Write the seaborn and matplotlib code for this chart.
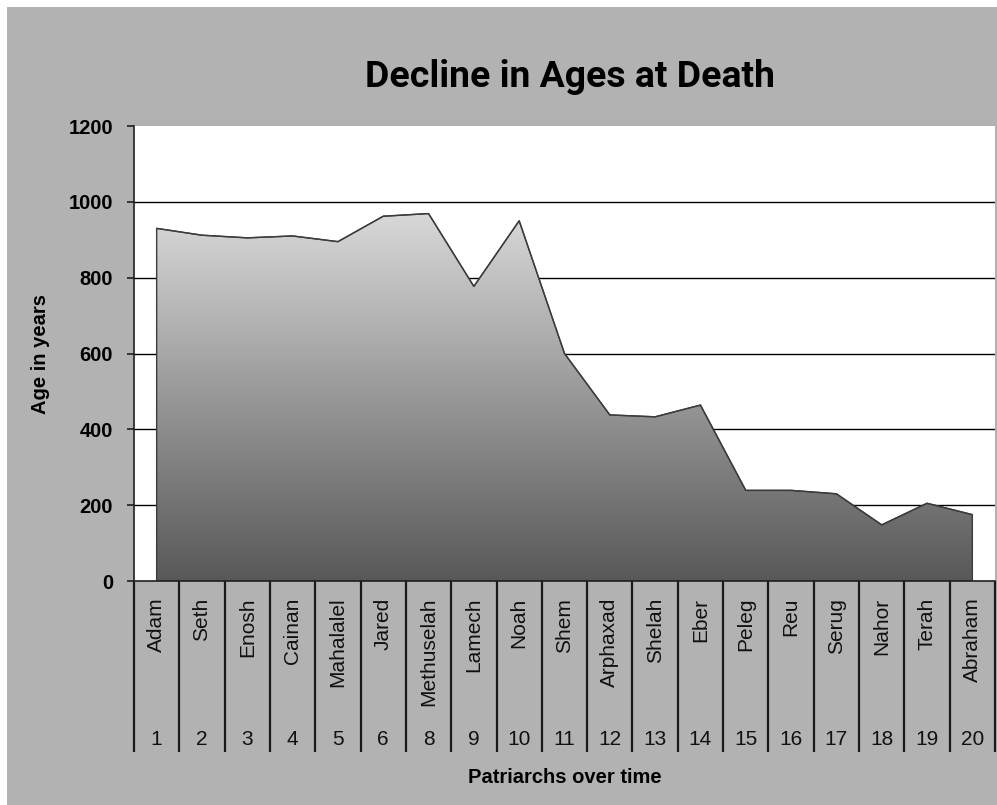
import matplotlib
matplotlib.use("Agg")
from matplotlib import pyplot as plt
from matplotlib import transforms
from matplotlib.colors import LinearSegmentedColormap
from matplotlib.patches import Rectangle
import seaborn as sns
import numpy as np

names = ['Adam', 'Seth', 'Enosh', 'Cainan', 'Mahalalel', 'Jared', 'Methuselah',
         'Lamech', 'Noah', 'Shem', 'Arphaxad', 'Shelah', 'Eber', 'Peleg', 'Reu',
         'Serug', 'Nahor', 'Terah', 'Abraham']
numbers = ['1', '2', '3', '4', '5', '6', '8', '9', '10', '11', '12', '13', '14',
           '15', '16', '17', '18', '19', '20']
ages = [930, 912, 905, 910, 895, 962, 969, 777, 950, 600, 438, 433, 464,
        239, 239, 230, 148, 205, 175]
yticks = [0, 200, 400, 600, 800, 1000, 1200]

sns.set_style('white')
plt.rcParams['font.family'] = ['Liberation Sans', 'DejaVu Sans']
plt.rcParams['text.color'] = 'black'
plt.rcParams['axes.labelcolor'] = 'black'
plt.rcParams['xtick.color'] = 'black'
plt.rcParams['ytick.color'] = 'black'

bg = '#b2b2b2'
fig = plt.figure(figsize=(9.97, 8.05), dpi=100, facecolor='white')
fig.patches.append(Rectangle((7 / 997, 0), 1, 1 - 7 / 805, transform=fig.transFigure,
                             facecolor=bg, edgecolor='none', zorder=-10))
ax = fig.add_axes([134 / 997, 1 - 581 / 805, 861 / 997, 455 / 805])
ax.set_facecolor('white')

x = np.arange(len(ages))

# gradient area
poly = ax.fill_between(x, ages, 0, facecolor='none', edgecolor='#3c3c3c', lw=1, zorder=2)
cmap = LinearSegmentedColormap.from_list('g', ['#585858', '#d8d8d8'])
grad = np.linspace(0, 1, 256).reshape(-1, 1)
img = ax.imshow(grad, cmap=cmap, origin='lower', aspect='auto',
                extent=[-0.5, len(ages) - 0.5, 0, max(ages)], zorder=1.5)
img.set_clip_path(poly.get_paths()[0], transform=ax.transData)
sns.lineplot(x=x, y=ages, ax=ax, color='#3c3c3c', lw=1, zorder=3)
ax.set_xlim(-0.5, len(ages) - 0.5)
ax.set_ylim(0, 1200)

# y axis
ax.set_yticks(yticks)
ax.set_yticklabels([str(v) for v in yticks], fontweight='bold', fontsize=14.5)
ax.yaxis.grid(True, color='black', lw=1)
ax.set_axisbelow(True)
ax.yaxis.get_gridlines()[-1].set_visible(False)
ax.yaxis.get_gridlines()[0].set_visible(False)
ax.tick_params(axis='y', left=True, length=5, width=1.2, color='#202020', pad=10)

# x axis: names as tick labels, separators as long minor ticks
ax.set_xticks(x)
ax.set_xticklabels(names, rotation=90, fontsize=15, color='#111111')
ax.tick_params(axis='x', which='major', length=0, pad=12)
ax.set_xticks(np.arange(len(ages) + 1) - 0.5, minor=True)
ax.tick_params(axis='x', which='minor', bottom=True, length=123, width=1.6,
               color='#1a1a1a', direction='out')

trans = transforms.blended_transform_factory(ax.transData, ax.transAxes)
for xi, num in zip(x, numbers):
    ax.text(xi, -0.349, num, transform=trans, ha='center', va='center',
            fontsize=15, color='#111111')

for side in ['top', 'right']:
    ax.spines[side].set_visible(False)
for side in ['left', 'bottom']:
    ax.spines[side].set_color('#202020')
    ax.spines[side].set_linewidth(1.2)

ax.set_xlabel('Patriarchs over time', fontweight='bold', fontsize=14.5)
ax.xaxis.set_label_coords(0.5, (581 - 777) / 455)
ax.xaxis.label.set_va('center')
ax.set_ylabel('Age in years', fontweight='bold', fontsize=14.5)
ax.yaxis.set_label_coords((40 - 134) / 861, 0.5)
ax.yaxis.label.set_va('center')

title = fig.text(570 / 997, 1 - 77 / 805, 'Decline in Ages at Death', ha='center',
                 va='center', fontsize=30, fontweight='bold', color='black',
                 family=['Roboto', 'Liberation Sans', 'DejaVu Sans'])
# shrink the title to the width it has in the reference (about 405 px)
fig.canvas.draw()
w = title.get_window_extent().width
title.set_fontsize(30 * 410 / w)

fig.savefig('out.png', dpi=100, facecolor=fig.get_facecolor())
